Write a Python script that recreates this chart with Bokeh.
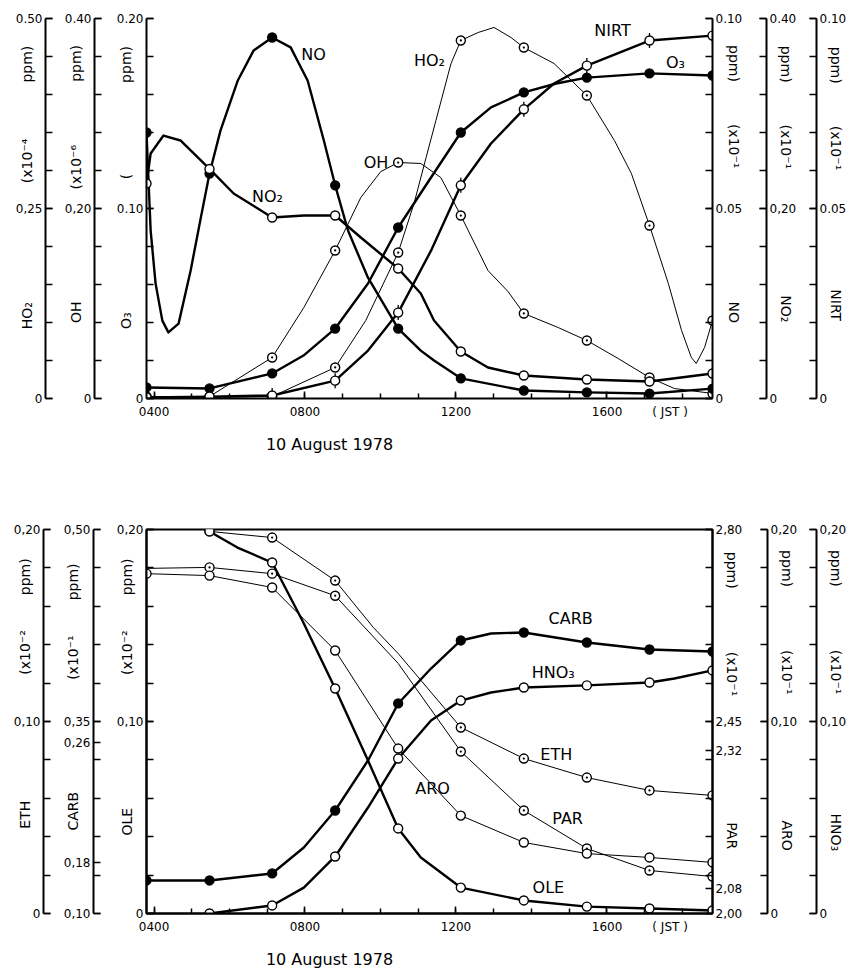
from math import pi

from bokeh.embed import file_html
from bokeh.layouts import column
from bokeh.models import FixedTicker, Label, LinearAxis, Range1d
from bokeh.plotting import figure
from bokeh.resources import INLINE

FONT = "DejaVu Sans"
EM, EN = "\u2003", "\u2002"

# Output times of the model run (hours, JST)
hours = [3.8, 5.47, 7.13, 8.8, 10.47, 12.13, 13.8, 15.47, 17.13, 18.8]
x_start, x_end = 3.8, 18.8
hour_ticks = [4, 8, 12, 16]
hour_labels = ["0400", "0800", "1200", EM * 5 + EN + "1600" + EM * 2 + EN + "( JST )"]
hour_minor = list(range(4, 19))
date_text = "10 August 1978"

# ---------------- upper panel: inorganic species ----------------
no_ppm = [0.0700, 0.0592, 0.0950, 0.0561, 0.0184, 0.0053, 0.0021, 0.0016, 0.0013, 0.0026]
no_bend_t = [3.91, 4.04, 4.22, 4.38, 4.65, 4.97, 5.24, 5.76, 6.22, 6.64, 7.62, 8.07, 8.50, 9.14, 9.67, 11.07, 11.42]
no_bend_v = [0.0442, 0.0303, 0.0205, 0.0174, 0.0197, 0.0337, 0.0476, 0.0705, 0.0837, 0.0916, 0.0924, 0.0837,
             0.0679, 0.0442, 0.0318, 0.0126, 0.0100]

no2_ppm = [0.2263, 0.2416, 0.1905, 0.1926, 0.1368, 0.0495, 0.0242, 0.0200, 0.0179, 0.0263]
no2_bend_t = [3.91, 4.25, 4.70, 6.11, 7.97, 9.48, 11.07, 11.42, 12.85]
no2_bend_v = [0.2579, 0.2768, 0.2716, 0.2158, 0.1926, 0.1695, 0.1105, 0.0821, 0.0326]

o3_ppm = [0.0058, 0.0053, 0.0132, 0.0368, 0.0900, 0.1400, 0.1611, 0.1689, 0.1711, 0.1700]
o3_bend_t = [7.96, 9.67, 11.34, 12.93, 14.66]
o3_bend_v = [0.0226, 0.0605, 0.1163, 0.1532, 0.1658]

nirt_ppm = [0.0003, 0.0005, 0.0008, 0.0047, 0.0226, 0.0561, 0.0761, 0.0876, 0.0942, 0.0955]
nirt_bend_t = [9.67, 11.34, 12.93, 14.60]
nirt_bend_v = [0.0126, 0.0389, 0.0671, 0.0829]

oh_ppm = [0.0021, 0.0021, 0.0432, 0.1558, 0.2484, 0.1926, 0.0895, 0.0611, 0.0221, 0.0053]
oh_bend_t = [7.97, 9.48, 10.01, 11.07, 11.60, 12.85, 13.38, 14.71, 16.30, 17.79]
oh_bend_v = [0.0958, 0.2116, 0.2389, 0.2474, 0.2326, 0.1347, 0.1126, 0.0747, 0.0421, 0.0105]

ho2_ppm = [0.0013, 0.0013, 0.0026, 0.0408, 0.1921, 0.4711, 0.4618, 0.3987, 0.2276, 0.1026]
ho2_bend_t = [9.61, 10.89, 11.21, 11.47, 11.87, 12.59, 13.01, 13.46, 14.60, 16.20, 16.65, 17.63, 17.98,
              18.24, 18.37, 18.59]
ho2_bend_v = [0.1026, 0.2566, 0.3171, 0.3658, 0.4408, 0.4816, 0.4882, 0.4750, 0.4408, 0.3395, 0.2961,
              0.1513, 0.0895, 0.0539, 0.0461, 0.0671]

# ---------------- lower panel: organic species and HNO3 ----------------
carb_ppm = [0.1344, 0.1344, 0.1417, 0.2073, 0.3188, 0.3844, 0.3927, 0.3823, 0.3750, 0.3729]
carb_bend_t = [7.97, 9.67, 11.34, 12.93]
carb_bend_v = [0.1688, 0.2594, 0.3552, 0.3917]

hno3_ppm = [None, 0.0, 0.0042, 0.0297, 0.0807, 0.1109, 0.1177, 0.1188, 0.1203, 0.1266]
hno3_bend_t = [7.97, 9.67, 11.34, 12.93, 17.79]
hno3_bend_v = [0.0135, 0.0552, 0.1005, 0.1151, 0.1224]

ole_ppm = [None, 0.1990, 0.1828, 0.1172, 0.0443, 0.0135, 0.0068, 0.0036, 0.0026, 0.0016]
ole_bend_t = [6.21, 7.93, 9.67, 11.07]
ole_bend_v = [0.1906, 0.1526, 0.0797, 0.0292]

eth_ppm = [None, 0.1990, 0.1958, 0.1734, 0.1354, 0.0969, 0.0807, 0.0708, 0.0641, 0.0615]
eth_bend_t = [9.81]
eth_bend_v = [0.1490]
eth_unmarked = [4]

par_ppm = [2.719, 2.721, 2.708, 2.662, 2.521, 2.3375, 2.2146, 2.1354, 2.0896, 2.077]
par_bend_t = []
par_bend_v = []
par_unmarked = [0, 4]

aro_ppm = [0.1770, 0.1760, 0.1698, 0.1370, 0.0859, 0.0510, 0.0370, 0.0312, 0.0292, 0.0266]
aro_bend_t = []
aro_bend_v = []

# approximate DejaVu Sans advance widths (em) used to lay out the axis titles
GLYPH_W = {"H": .752, "O": .787, "N": .748, "I": .295, "R": .695, "T": .611, "E": .632, "C": .698,
           "A": .684, "B": .686, "L": .557, "P": .603, "(": .390, ")": .390, "x": .592, "1": .636,
           "0": .636, "p": .635, "m": .974, "⁻": .53, "¹": .401, "²": .401, "⁴": .401, "⁶": .401,
           "₂": .401, "₃": .401}
TITLE_PX = 14


def text_w(s, size=TITLE_PX):
    return sum(GLYPH_W.get(c, .6) for c in s) * size


def gap(px, size=TITLE_PX):
    n = max(0, int(round(px / (size / 2))))
    return EM * (n // 2) + EN * (n % 2), n * size / 2


def run_of(pieces, length):
    """Join (text, offset) pieces with em/en spaces so the string spans `length` px."""
    out, pos = "", 0.0
    for txt, start in pieces:
        g, w = gap(start - pos)
        out += g + txt
        pos += w + text_w(txt)
    g, _ = gap(length - pos)
    return out + g


def title_up(name, name_at, unit, unit_at, ppm_end, length):
    """Axis title read bottom-to-top; offsets measured up from the axis origin."""
    return run_of([(name, name_at), (unit, unit_at), ("ppm)", ppm_end - text_w("ppm)"))], length)


def title_down(name, name_at, unit, unit_at, ppm_end, length):
    """Same layout for a title read top-to-bottom; offsets still measured up from the origin."""
    pieces = [("ppm)", length - ppm_end),
              (unit, length - unit_at - text_w(unit)),
              (name, length - name_at - text_w(name))]
    return run_of(pieces, length)


def trace(vals, bend_t, bend_v):
    pts = [(t, v) for t, v in zip(hours, vals) if v is not None] + list(zip(bend_t, bend_v))
    pts.sort()
    return [q[0] for q in pts], [q[1] for q in pts]


def dress(ax, major, labels, minor, title=None, shift=0):
    ax.ticker = FixedTicker(ticks=major, minor_ticks=minor)
    ax.major_label_overrides = dict(zip(major, labels))
    ax.major_tick_in = 7
    ax.major_tick_out = 0
    ax.minor_tick_in = 7
    ax.minor_tick_out = 0
    ax.axis_line_width = 2
    ax.axis_line_color = "black"
    ax.major_tick_line_width = 1.5
    ax.minor_tick_line_width = 1.5
    ax.major_label_standoff = 3
    ax.major_label_text_font = FONT
    ax.major_label_text_font_size = "12px"
    ax.major_label_text_color = "black"
    if title is not None:
        ax.axis_label = title
        ax.axis_label_standoff = shift
        ax.axis_label_text_font = FONT
        ax.axis_label_text_font_size = f"{TITLE_PX}px"
        ax.axis_label_text_font_style = "normal"
        ax.axis_label_text_color = "black"


def spacer(p, side, n):
    """An empty axis (one invisible outward minor tick) that pushes the next axis `n` px out."""
    ax = LinearAxis(ticker=FixedTicker(ticks=[], minor_ticks=[0.1]))
    ax.axis_line_alpha = 0
    ax.major_tick_line_alpha = 0
    ax.minor_tick_line_alpha = 0
    ax.major_tick_in = 0
    ax.major_tick_out = n
    ax.minor_tick_in = 0
    ax.minor_tick_out = n
    ax.major_label_standoff = 0
    p.add_layout(ax, side)


def steps(lo, hi, n):
    return [round(lo + (hi - lo) * i / n, 5) for i in range(n + 1)]


def panel(height, border_top, border_bottom, y0, y1):
    p = figure(width=852, height=height, x_range=Range1d(x_start, x_end), y_range=Range1d(y0, y1),
               output_backend="svg", toolbar_location=None,
               min_border_left=146, min_border_right=140,
               min_border_top=border_top, min_border_bottom=border_bottom)
    p.grid.visible = False
    p.background_fill_color = "white"
    p.border_fill_color = "white"
    xa = p.xaxis[0]
    xa.ticker = FixedTicker(ticks=hour_ticks, minor_ticks=hour_minor)
    xa.major_label_overrides = dict(zip(hour_ticks, hour_labels))
    xa.major_tick_in = 7
    xa.major_tick_out = 0
    xa.minor_tick_in = 5
    xa.minor_tick_out = 0
    xa.axis_line_width = 2
    xa.major_tick_line_width = 1.5
    xa.minor_tick_line_width = 1.5
    xa.major_label_standoff = 6
    xa.major_label_text_font = FONT
    xa.major_label_text_font_size = "12px"
    xa.major_label_text_color = "black"
    xa.axis_label = date_text + EM * 12 + EN
    xa.axis_label_standoff = 13
    xa.axis_label_text_font = FONT
    xa.axis_label_text_font_size = "16px"
    xa.axis_label_text_font_style = "normal"
    xa.axis_label_text_color = "black"
    return p


def add_axis(p, name, side, major, labels, minor, title=None, shift=0):
    ax = LinearAxis(y_range_name=name)
    dress(ax, major, labels, minor, title, shift)
    p.add_layout(ax, side)


def text(p, t, v, s, size="16px", align="center"):
    p.add_layout(Label(x=t, y=v, text=s, text_align=align, text_baseline="middle",
                       text_font=FONT, text_font_size=size, text_color="black"))


def series_lines(p, items):
    for vals, bt, bv, rng, width, _, _ in items:
        xs, ys = trace(vals, bt, bv)
        p.line(xs, ys, line_width=width, line_color="black", y_range_name=rng, line_join="round")


def series_marks(p, items):
    for vals, _, _, rng, _, mark, skip in items:
        keep = [i for i, v in enumerate(vals) if v is not None and i not in skip]
        xs = [hours[i] for i in keep]
        ys = [vals[i] for i in keep]
        if mark == "filled":
            p.scatter(xs, ys, marker="circle", size=9, fill_color="black", line_color="black",
                      line_width=1.3, y_range_name=rng)
        elif mark == "open":
            p.scatter(xs, ys, marker="circle", size=9, fill_color="white", line_color="black",
                      line_width=1.4, y_range_name=rng)
        elif mark == "dot":
            p.scatter(xs, ys, marker="circle_dot", size=9, fill_color="white", line_color="black",
                      line_width=1.4, y_range_name=rng)
        else:
            p.scatter(xs, ys, marker="dash", angle=pi / 2, size=15, line_color="black",
                      line_width=1.3, y_range_name=rng)
            p.scatter(xs, ys, marker="circle", size=9, fill_color="white", line_color="black",
                      line_width=1.4, y_range_name=rng)


# ======================= upper figure =======================
TOP_H = 380
top = panel(470, 18, 72, 0, 0.20)
top.outline_line_color = None
top.extra_y_ranges = {
    "oh": Range1d(0, 0.40), "ho2": Range1d(0, 0.50),
    "no": Range1d(0, 0.10), "no2": Range1d(0, 0.40), "nirt": Range1d(0, 0.10),
}
dress(top.yaxis[0], [0, 0.10, 0.20], ["0", "0.10", "0.20"], steps(0, 0.2, 10),
      run_of([("O₃", 68), ("(", 221), ("ppm)", 353 - text_w("ppm)"))], TOP_H), -20)
spacer(top, "left", 20)
add_axis(top, "oh", "left", [0, 0.20, 0.40], ["0", "0,20", "0.40"], steps(0, 0.4, 10),
         title_up("OH", 75, "(x10⁻⁶", 213, 353, TOP_H), -22)
spacer(top, "left", 19)
add_axis(top, "ho2", "left", [0, 0.25, 0.50], ["0", "0,25", "0.50"], steps(0, 0.5, 10),
         title_up("HO₂", 73, "(x10⁻⁴", 213, 353, TOP_H), -22)

add_axis(top, "no", "right", [0, 0.05, 0.10], ["0", "0.05", "0.10"], steps(0, 0.1, 10),
         title_down("NO", 75, "(x10⁻¹", 228, 351, TOP_H), -19)
spacer(top, "right", 21)
add_axis(top, "no2", "right", [0, 0.20, 0.40], ["0", "0,20", "0.40"], steps(0, 0.4, 10),
         title_down("NO₂", 75, "(x10⁻¹", 228, 351, TOP_H), -21)
spacer(top, "right", 19)
add_axis(top, "nirt", "right", [0, 0.05, 0.10], ["0", "0.05", "0.10"], steps(0, 0.1, 10),
         title_down("NIRT", 75, "(x10⁻¹", 228, 351, TOP_H), -21)

top_series = [
    (oh_ppm, oh_bend_t, oh_bend_v, "oh", 1.0, "dot", []),
    (ho2_ppm, ho2_bend_t, ho2_bend_v, "ho2", 1.0, "dot", []),
    (o3_ppm, o3_bend_t, o3_bend_v, "default", 2.4, "filled", []),
    (nirt_ppm, nirt_bend_t, nirt_bend_v, "nirt", 2.4, "tick", []),
    (no_ppm, no_bend_t, no_bend_v, "no", 2.4, "filled", []),
    (no2_ppm, no2_bend_t, no2_bend_v, "no2", 2.4, "open", []),
]
series_lines(top, top_series)
series_marks(top, top_series)

text(top, 8.225, 0.1811, "NO")
text(top, 7.006, 0.1063, "NO₂")
text(top, 10.21, 0.1242, "OH", align="right")
text(top, 11.30, 0.1779, "HO₂")
text(top, 16.15, 0.1937, "NIRT")
text(top, 17.82, 0.1768, "O₃")

# ======================= lower figure =======================
BOT_H = 384
bot = panel(503, 59, 60, 0, 0.20)
bot.outline_line_color = "black"
bot.outline_line_width = 2
bot.extra_y_ranges = {
    "carb": Range1d(0.10, 0.50), "eth": Range1d(0, 0.20),
    "par": Range1d(2.00, 2.80), "aro": Range1d(0, 0.20), "hno3": Range1d(0, 0.20),
}
dress(bot.yaxis[0], [0, 0.10, 0.20], ["0", "0,10", "0,20"], steps(0, 0.2, 10),
      title_up("OLE", 80, "(x10⁻²", 236, 353, BOT_H), -21)
spacer(bot, "left", 22)
add_axis(bot, "carb", "left", [0.10, 0.153, 0.278, 0.30, 0.50], ["0,10", "0,18", "0,26", "0,35", "0,50"],
         steps(0.1, 0.5, 10), title_up("CARB", 85, "(x10⁻¹", 236, 353, BOT_H), -20)
spacer(bot, "left", 18)
add_axis(bot, "eth", "left", [0, 0.10, 0.20], ["0", "0,10", "0,20"], steps(0, 0.2, 10),
         title_up("ETH", 82, "(x10⁻²", 236, 353, BOT_H), -22)

add_axis(bot, "par", "right", [2.00, 2.052, 2.339, 2.40, 2.80], ["2,00", "2,08", "2,32", "2,45", "2,80"],
         steps(2.0, 2.8, 10), title_down("PAR", 63, "(x10⁻¹", 220, 360, BOT_H), -21)
spacer(bot, "right", 24)
add_axis(bot, "aro", "right", [0, 0.10, 0.20], ["0", "0,10", "0,20"], steps(0, 0.2, 10),
         title_down("ARO", 63, "(x10⁻¹", 220, 360, BOT_H), -21)
spacer(bot, "right", 18)
add_axis(bot, "hno3", "right", [0, 0.10, 0.20], ["0", "0,10", "0,20"], steps(0, 0.2, 10),
         title_down("HNO₃", 63, "(x10⁻¹", 220, 360, BOT_H), -21)

bot_series = [
    (eth_ppm, eth_bend_t, eth_bend_v, "eth", 1.0, "dot", eth_unmarked),
    (par_ppm, par_bend_t, par_bend_v, "par", 1.0, "dot", par_unmarked),
    (aro_ppm, aro_bend_t, aro_bend_v, "aro", 1.0, "open", []),
    (carb_ppm, carb_bend_t, carb_bend_v, "carb", 2.4, "filled", []),
    (hno3_ppm, hno3_bend_t, hno3_bend_v, "hno3", 2.4, "open", []),
    (ole_ppm, ole_bend_t, ole_bend_v, "default", 2.4, "open", []),
]
series_lines(bot, bot_series)
series_marks(bot, bot_series)

text(bot, 15.04, 0.1536, "CARB")
text(bot, 14.58, 0.1255, "HNO₃")
text(bot, 14.66, 0.0828, "ETH")
text(bot, 11.38, 0.0651, "ARO")
text(bot, 14.96, 0.0495, "PAR")
text(bot, 14.45, 0.0135, "OLE")

layout = column(top, bot)
open("out.html", "w").write(file_html(layout, INLINE))
